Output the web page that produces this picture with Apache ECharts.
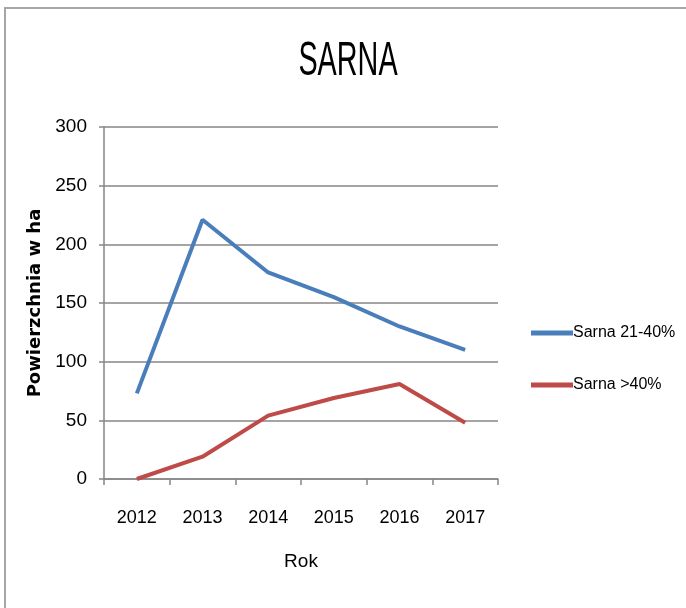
<!DOCTYPE html>
<html>
<head>
<meta charset="utf-8">
<script src="https://cdn.jsdelivr.net/npm/echarts@6/dist/echarts.min.js"></script>
<style>
  html, body { margin: 0; padding: 0; background: #fff; }
  #chart { width: 686px; height: 608px; }
</style>
</head>
<body>
<div id="chart"></div>
<script>
var years = ['2012', '2013', '2014', '2015', '2016', '2017'];
var sarna2140 = [73, 221, 176, 155, 130, 110];
var sarna40 = [0, 19, 54, 69, 81, 48];

var font = "'Liberation Sans', Arial, sans-serif";

var myChart = echarts.init(document.getElementById('chart'), null, { renderer: 'canvas' });

var option = {
  backgroundColor: '#fff',
  animation: false,
  graphic: [{
    type: 'rect',
    shape: { x: 5, y: 8, width: 720, height: 640 },
    style: { fill: 'none', stroke: '#a6a6a6', lineWidth: 2 }
  }, {
    // title, narrow like the original
    type: 'text',
    x: 348,
    y: 62,
    scaleX: 0.6,
    style: {
      text: 'SARNA',
      font: '48px "Liberation Sans", Arial, sans-serif',
      fill: '#000',
      textAlign: 'center',
      textVerticalAlign: 'middle'
    }
  }],
  legend: {
    orient: 'vertical',
    left: 526,
    top: 320,
    itemWidth: 42,
    itemHeight: 5,
    itemGap: 36,
    icon: 'rect',
    textStyle: { fontFamily: font, fontSize: 16, color: '#000', padding: [0, 0, 0, -5] },
    data: ['Sarna 21-40%', 'Sarna >40%']
  },
  grid: { left: 104, right: 188, top: 127, bottom: 129 },
  xAxis: {
    type: 'category',
    data: years,
    boundaryGap: true,
    name: 'Rok',
    nameLocation: 'middle',
    nameGap: 73,
    nameTextStyle: { fontFamily: font, fontSize: 19, color: '#000' },
    axisLine: { lineStyle: { color: '#868686', width: 1.5 } },
    axisTick: { show: true, length: 6, alignWithLabel: false, lineStyle: { color: '#868686', width: 1.5 } },
    axisLabel: { fontFamily: font, fontSize: 18, color: '#000', margin: 30 }
  },
  yAxis: {
    type: 'value',
    min: 0,
    max: 300,
    interval: 50,
    name: 'Powierzchnia w ha',
    nameLocation: 'middle',
    nameGap: 52,
    nameRotate: 90,
    nameTextStyle: { fontFamily: "'DejaVu Sans', sans-serif", fontSize: 18, fontWeight: 'bold', color: '#000' },
    axisLine: { show: true, lineStyle: { color: '#868686', width: 1.5 } },
    axisTick: { show: true, length: 5, inside: false, lineStyle: { color: '#868686', width: 1.5 } },
    axisLabel: { fontFamily: font, fontSize: 19, color: '#000', margin: 17 },
    splitLine: { show: true, lineStyle: { color: '#868686', width: 1.5 } }
  },
  series: [{
    name: 'Sarna 21-40%',
    type: 'line',
    data: sarna2140,
    symbol: 'none',
    color: '#4a7ebb',
    lineStyle: { width: 4, color: '#4a7ebb' }
  }, {
    name: 'Sarna >40%',
    type: 'line',
    data: sarna40,
    symbol: 'none',
    color: '#be4b48',
    lineStyle: { width: 4, color: '#be4b48' }
  }]
};

myChart.setOption(option);
</script>
</body>
</html>
